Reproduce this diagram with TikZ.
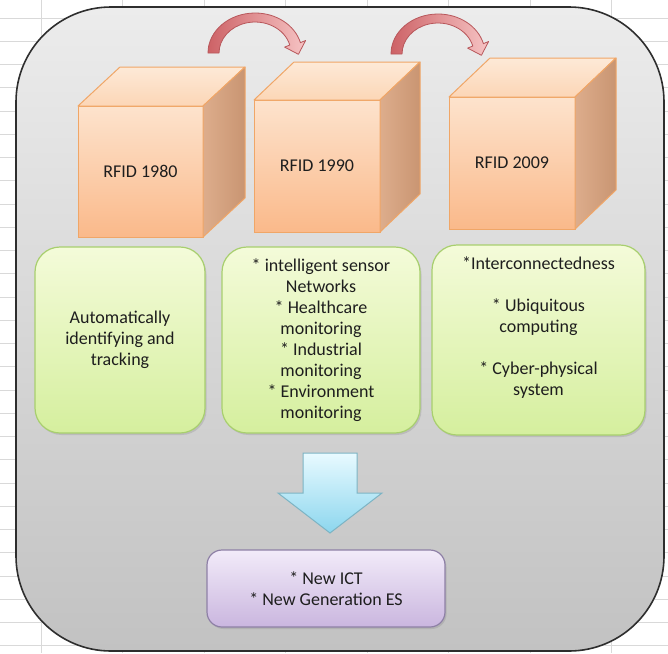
\documentclass[tikz,border=0pt]{standalone}
\usepackage{fontspec}
\setmainfont{Carlito}
\usetikzlibrary{arrows.meta,shadows}
\definecolor{gridc}{HTML}{D9D9D9}
\definecolor{panelTop}{HTML}{ECECEC}
\definecolor{panelBot}{HTML}{C2C2C2}
\definecolor{panelBorder}{HTML}{2E2E2E}
\definecolor{cubeFtop}{HTML}{FDE3CD}
\definecolor{cubeFbot}{HTML}{FAB98A}
\definecolor{cubeT}{HTML}{FDE9D7}
\definecolor{cubeTb}{HTML}{FCD6B6}
\definecolor{cubeRl}{HTML}{DDAD8C}
\definecolor{cubeRr}{HTML}{C99572}
\definecolor{cubeBorder}{HTML}{F0A667}
\definecolor{greenTop}{HTML}{F4FBD9}
\definecolor{greenBot}{HTML}{D5EF9E}
\definecolor{greenBorder}{HTML}{A8CF6E}
\definecolor{purpTop}{HTML}{F2EBF9}
\definecolor{purpBot}{HTML}{CAB6DF}
\definecolor{purpBorder}{HTML}{8E80A6}
\definecolor{blueTop}{HTML}{E8FAFF}
\definecolor{blueBot}{HTML}{8CD6EE}
\definecolor{blueBorder}{HTML}{7DB4C4}
\definecolor{redL}{HTML}{CD6266}
\definecolor{redM}{HTML}{E78F93}
\definecolor{redR}{HTML}{F6C4C4}
\definecolor{redBorder}{HTML}{B8575B}
\definecolor{txt}{HTML}{1E1E1E}
\newcommand\bentarrow[1]{%
  \begin{scope}[shift={#1}]
    \draw[redarrow] (-47,0) arc[start angle=180, end angle=345, x radius=47, y radius=40]
      -- (50.6,-12.5) -- (43.4,1.3) -- (29.6,-5.9) -- (34.8,-8.0)
      arc[start angle=345, end angle=180, x radius=36, y radius=31] -- cycle;
  \end{scope}}
\begin{document}
\begin{tikzpicture}[x=1pt,y=-1pt,
  font=\fontsize{18}{21}\selectfont,
  gridline/.style={draw=gridc, line width=0.8pt},
  panel/.style={draw=panelBorder, line width=1.6pt, rounded corners=95pt,
    top color=panelTop, bottom color=panelBot, inner sep=0pt, outer sep=0pt},
  cubefront/.style={draw=cubeBorder, line width=1pt, top color=cubeFtop,
    bottom color=cubeFbot, inner sep=0pt, outer sep=0pt, text=txt},
  cubetop/.style={draw=cubeBorder, line width=1pt, top color=cubeT,
    bottom color=cubeTb, line join=round},
  cuberight/.style={draw=cubeBorder, line width=1pt, left color=cubeRl,
    right color=cubeRr, line join=round},
  greenbox/.style={draw=greenBorder, line width=1.2pt, rounded corners=25pt,
    top color=greenTop, bottom color=greenBot, align=center, text=txt,
    inner sep=0pt,
    drop shadow={opacity=0.25, shadow xshift=1.5pt, shadow yshift=-2pt}},
  boxtext/.style={align=center, text=txt, inner sep=0pt},
  purpbox/.style={draw=purpBorder, line width=1.2pt, rounded corners=15pt,
    top color=purpTop, bottom color=purpBot, align=center, text=txt,
    inner sep=0pt,
    drop shadow={opacity=0.25, shadow xshift=1.5pt, shadow yshift=-2pt}},
  bluearrow/.style={draw=blueBorder, line width=1pt, top color=blueTop,
    bottom color=blueBot, line join=miter},
  redarrow/.style={draw=redBorder, line width=0.8pt, left color=redL,
    middle color=redM, right color=redR, line join=round},
]
\useasboundingbox (0,0) rectangle (668,653);
\fill[white] (0,0) rectangle (668,653);
% spreadsheet grid
\foreach \i in {0,...,7} \draw[gridline] ({41+81.5*\i},0) -- ++(0,653);
\foreach \i in {0,...,27} \draw[gridline] (0,{18+23.25*\i}) -- ++(668,0);
% panel
\node[panel, minimum width=648pt, minimum height=644pt] (panel) at (340,329) {};
% cubes
\node[cubefront, minimum width=125pt, minimum height=131pt] (c1) at (140.5,171.5) {RFID 1980};
\draw[cubetop] (c1.north west) -- ++(42,-39) -- ++(125,0) -- (c1.north east) -- cycle;
\draw[cuberight] (c1.north east) -- ++(42,-39) -- ++(0,131) -- (c1.south east) -- cycle;
\node[cubefront, minimum width=126pt, minimum height=132pt] (c2) at (317,166) {RFID 1990};
\draw[cubetop] (c2.north west) -- ++(40,-38) -- ++(126,0) -- (c2.north east) -- cycle;
\draw[cuberight] (c2.north east) -- ++(40,-38) -- ++(0,132) -- (c2.south east) -- cycle;
\node[cubefront, minimum width=126pt, minimum height=132pt] (c3) at (512,163) {RFID 2009};
\draw[cubetop] (c3.north west) -- ++(41,-39) -- ++(126,0) -- (c3.north east) -- cycle;
\draw[cuberight] (c3.north east) -- ++(41,-39) -- ++(0,132) -- (c3.south east) -- cycle;
% curved arrows
\coordinate (r1) at (255,53);
\coordinate (r2) at (438,54);
\bentarrow{(r1)}
\bentarrow{(r2)}
% green boxes
\node[greenbox, minimum width=170pt, minimum height=186pt] (g1) at (120,340)
  {Automatically\\identifying and\\tracking};
\node[greenbox, minimum width=198pt, minimum height=186pt] (g2) at (321,340)
  {* intelligent sensor\\Networks\\* Healthcare\\monitoring\\* Industrial\\monitoring\\* Environment\\monitoring};
\node[greenbox, minimum width=213pt, minimum height=190pt] (g3) at (538.5,340) {};
\node[boxtext] (t3) at (538.5,328)
  {*Interconnectedness\\[21pt]* Ubiquitous\\computing\\[21pt]* Cyber-physical\\system};
% down arrow
\coordinate (bt) at (330,533);
\draw[bluearrow] (bt) -- ++(52,-40) -- ++(-25,0) -- ++(0,-40) -- ++(-54,0)
  -- ++(0,40) -- ++(-25,0) -- cycle;
% result box
\node[purpbox, minimum width=238pt, minimum height=77pt] (pb) at (326,588.5)
  {* New ICT\\* New Generation ES};
\end{tikzpicture}
\end{document}
